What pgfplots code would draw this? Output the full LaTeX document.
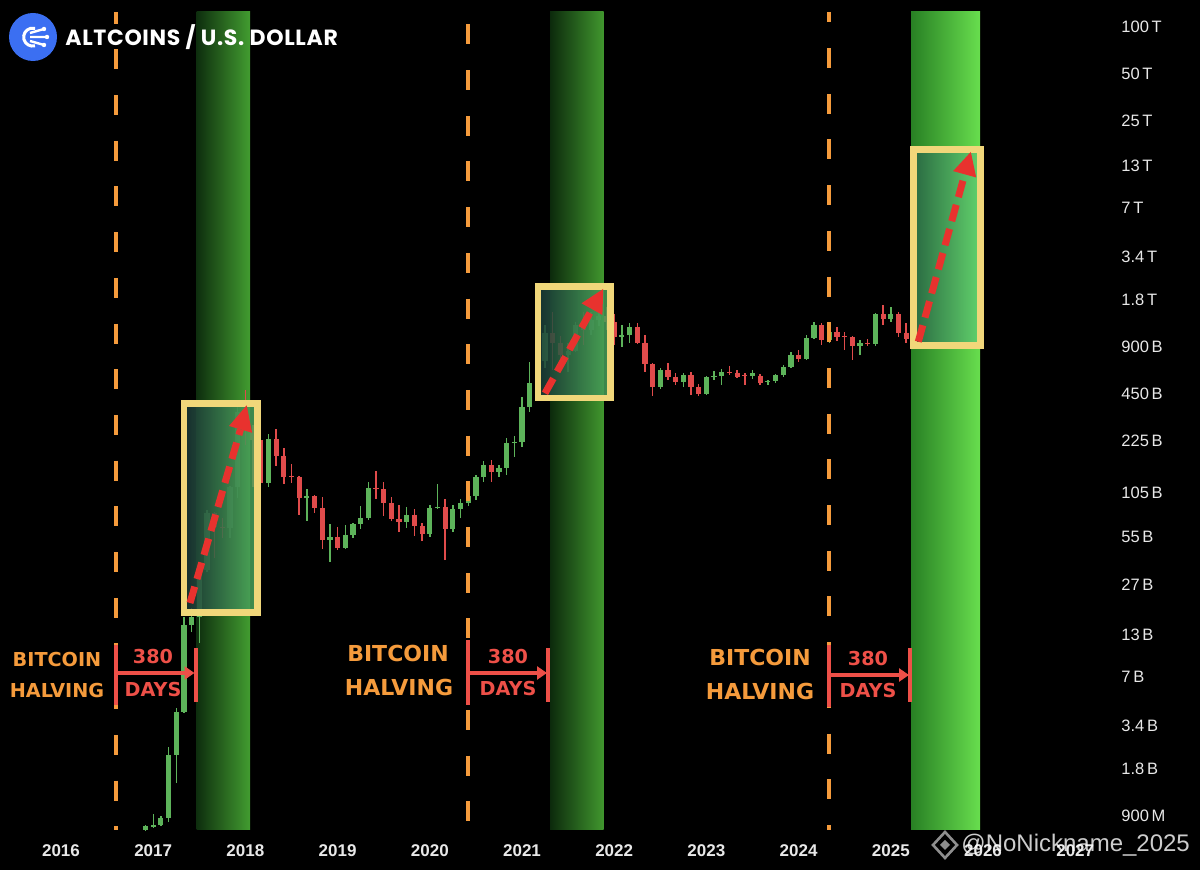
\documentclass[border=0pt]{standalone}
\usepackage{pgfplots}
\pgfplotsset{compat=1.18}
\usepackage{pgfplotstable}
\usepackage{fontspec}
\setmainfont{Liberation Sans}
\newfontfamily\titlefont{Poppins}[LetterSpace=3]
\newfontfamily\annfont{DejaVu Sans}
\usetikzlibrary{arrows.meta}

\definecolor{cgreen}{HTML}{5DB35A}
\definecolor{cred}{HTML}{E04B4B}
\definecolor{halv}{HTML}{F59B3C}
\definecolor{ann}{HTML}{EE5048}
\definecolor{boxy}{HTML}{F1D77A}
\definecolor{arr}{HTML}{E8322E}
\definecolor{logoblue}{HTML}{3B6FF2}
\definecolor{labgray}{HTML}{E8E8E8}

% monthly candles: t = decimal year, o h l c in billions USD
\pgfplotstableread{
t o h l c
2016.9167 0.732 0.788 0.721 0.776
2017.0000 0.765 0.927 0.754 0.788
2017.0833 0.788 0.900 0.776 0.874
2017.1667 0.874 2.48 0.823 2.21
2017.2500 2.21 4.42 1.46 4.16
2017.3333 4.16 16.9 4.10 14.96
2017.4167 14.96 19.2 13.5 16.9
2017.5000 16.9 36.3 11.5 33.7
2017.5833 33.7 81.5 32.7 78.0
2017.6667 78.0 79.1 40.2 63.4
2017.7500 63.4 72.4 54.0 62.5
2017.8333 62.5 116.1 54.0 114.4
2017.9167 114.4 382.5 97.2 345
2018.0000 345 477 212.3 264.7
2018.0833 264.7 284.9 114.4 228.5
2018.1667 228.5 242.3 117.8 121.3
2018.2500 121.3 249.5 114.4 231.8
2018.3333 231.8 268.6 155.8 180.5
2018.4167 180.5 203.1 119.5 132.5
2018.5000 134.5 160.5 121.3 132.5
2018.5833 132.5 135.0 75.7 97.2
2018.6667 97.2 111.1 69.3 100.1
2018.7500 100.1 101.0 78.0 83.9
2018.8333 83.9 98.7 45.9 52.4
2018.9167 52.4 66.3 37.9 54.8
2019.0000 54.8 63.4 45.2 46.6
2019.0833 46.6 65.3 45.9 56.4
2019.1667 56.4 67.3 54.0 66.3
2019.2500 66.3 86.4 61.6 72.4
2019.3333 72.4 123.1 70.3 112.7
2019.4167 112.7 144.8 95.8 110.7
2019.5000 110.7 123.1 74.6 90.3
2019.5833 90.3 98.7 69.0 71.4
2019.6667 71.4 87.7 58.9 68.3
2019.7500 68.3 85.2 62.5 75.7
2019.8333 75.7 82.7 55.6 64.3
2019.9167 64.3 67.3 51.6 57.2
2020.0000 57.2 87.7 54.8 83.9
2020.0833 83.9 119.5 82.7 85.2
2020.1667 85.2 95.8 39.0 61.6
2020.2500 61.6 87.7 58.9 82.7
2020.3333 82.7 95.8 72.4 90.3
2020.4167 90.3 104.7 86.4 100.1
2020.5000 100.1 136.5 94.4 132.5
2020.5833 132.5 167.7 123.1 158.1
2020.6667 158.1 170.2 123.1 142.6
2020.7500 142.6 158.1 132.5 151.3
2020.8333 151.3 235.3 136.5 218.6
2020.9167 218.6 242.3 177.9 221.9
2021.0000 221.9 430.3 206.1 371.4
2021.0833 371.4 720.4 345 528.8
2021.1667 528.8 798.6 443.2 731.1
2021.2500 731.1 1242 659.5 1104
2021.3333 1104 1504 640.4 952.9
2021.4167 952.9 1056 621.8 798.6
2021.5000 798.6 952.9 621.8 847.0
2021.5833 847.0 1298 834.7 1242
2021.6667 1242 1504 925.2 1154
2021.7500 1154 1504 1072 1337
2021.8333 1337 1744 1224 1418
2021.9167 1418 1619 1154 1298
2022.0000 1298 1460 925.2 1041
2022.0833 1041 1242 898.4 1072
2022.1667 1072 1279 952.9 1206
2022.2500 1206 1279 938.9 952.9
2022.3333 952.9 1072 621.8 699.5
2022.4167 699.5 709.9 436.7 498.6
2022.5000 498.6 659.5 484.1 640.4
2022.5833 640.4 709.9 552.7 577.6
2022.6667 577.6 612.7 513.5 536.7
2022.7500 536.7 612.7 498.6 594.9
2022.8333 594.9 621.8 443.2 498.6
2022.9167 498.6 521.1 436.7 449.7
2023.0000 449.7 586.2 443.2 577.6
2023.0833 577.6 631.0 552.7 586.2
2023.1667 586.2 649.9 513.5 621.8
2023.2500 621.8 679.2 594.9 612.7
2023.3333 612.7 640.4 569.2 577.6
2023.4167 594.9 612.7 513.5 586.2
2023.5000 586.2 640.4 560.9 612.7
2023.5833 586.2 603.7 513.5 528.8
2023.6667 536.7 552.7 513.5 544.6
2023.7500 544.6 603.7 528.8 594.9
2023.8333 594.9 689.3 577.6 669.3
2023.9167 669.3 834.7 659.5 798.6
2024.0000 798.6 859.6 720.4 752.9
2024.0833 752.9 1072 745 1026
2024.1667 1026 1298 1011 1242
2024.2500 1242 1279 925.2 995.9
2024.3333 995.9 1279 952.9 1120
2024.4167 1120 1206 981.4 1041
2024.5000 1056 1120 859.6 1041
2024.5833 1041 1060 741.9 911.7
2024.6667 911.7 995.9 798.6 952.9
2024.7500 952.9 1010.6 911.7 938.9
2024.8333 938.9 1482 911.7 1460
2024.9167 1460 1667 1242 1357
2025.0000 1357 1619 1298 1460
2025.0833 1460 1504 1041 1104
2025.1667 1104 1279 952.9 1011
}\candles
\pgfplotstablegetrowsof{\candles}
\pgfmathtruncatemacro{\lastrow}{\pgfplotsretval-1}

\begin{document}
\begin{tikzpicture}
\fill[black] (0,0) rectangle (600pt,435pt);
% ---- green bands (pixel coordinates) ----
\begin{scope}[x=0.5pt,y=-0.5pt,yshift=435pt]
  \shade[left color={rgb,255:red,14;green,46;blue,14}, middle color={rgb,255:red,38;green,100;blue,32}, right color={rgb,255:red,66;green,156;blue,48}] (196.5,12) rectangle (250,830);
  \shade[left color={rgb,255:red,12;green,42;blue,12}, middle color={rgb,255:red,36;green,96;blue,30}, right color={rgb,255:red,64;green,150;blue,46}] (550,12) rectangle (603.5,830);
  \shade[left color={rgb,255:red,40;green,128;blue,36}, middle color={rgb,255:red,78;green,190;blue,60}, right color={rgb,255:red,104;green,222;blue,78}] (911,12) rectangle (980,830);
\end{scope}

\begin{axis}[
  at={(0,0)}, anchor=south west,
  scale only axis, width=600pt, height=435pt,
  xmin=2015.33839, xmax=2028.35358,
  ymode=log, ymin=0.40614, ymax=148840,
  axis line style={draw=none}, tick style={draw=none},
  major tick length=0pt, minor tick length=0pt,
  xtick={2016,2017,2018,2019,2020,2021,2022,2023,2024,2025,2026,2027},
  xticklabels={2016,2017,2018,2019,2020,2021,2022,2023,2024,2025,2026,2027},
  ytick={0.9,1.8,3.4,7,13,27,55,105,225,450,900,1800,3400,7000,13000,25000,50000,100000},
  yticklabels={900\,M,1.8\,B,3.4\,B,7\,B,13\,B,27\,B,55\,B,105\,B,225\,B,450\,B,900\,B,1.8\,T,3.4\,T,7\,T,13\,T,25\,T,50\,T,100\,T},
  xticklabel style={anchor=center, inner sep=0pt, yshift=9.5pt, text=labgray, font=\bfseries\fontsize{8.5pt}{10pt}\selectfont},
  yticklabel style={anchor=west, inner sep=0pt, xshift=560.5pt, text=labgray, font=\fontsize{8.25pt}{10pt}\selectfont},
]
\pgfplotsforeachungrouped \i in {0,...,\lastrow}{%
  \pgfplotstablegetelem{\i}{t}\of\candles \let\ct\pgfplotsretval
  \pgfplotstablegetelem{\i}{o}\of\candles \let\co\pgfplotsretval
  \pgfplotstablegetelem{\i}{h}\of\candles \let\ch\pgfplotsretval
  \pgfplotstablegetelem{\i}{l}\of\candles \let\cl\pgfplotsretval
  \pgfplotstablegetelem{\i}{c}\of\candles \let\cc\pgfplotsretval
  \pgfmathparse{\cc>=\co?1:0}%
  \ifdim\pgfmathresult pt>0.5pt \def\ccol{cgreen}\else\def\ccol{cred}\fi
  \edef\docandle{%
    \noexpand\addplot[draw=\ccol, line width=0.7pt, forget plot] coordinates {(\ct,\cl) (\ct,\ch)};
    \noexpand\addplot[draw=\ccol, line width=2.6pt, forget plot] coordinates {(\ct,\co) (\ct,\cc)};
  }%
  \docandle
}
\end{axis}

% ---- annotations (pixel coordinates) ----
\begin{scope}[x=0.5pt,y=-0.5pt,yshift=435pt]
  % halving lines
  \draw[halv, line width=1.7pt, dash pattern=on 10pt off 12.85pt, dash phase=4.15pt] (116,12) -- (116,830);
  \draw[halv, line width=1.7pt, dash pattern=on 10pt off 12.85pt, dash phase=16.65pt] (468,12) -- (468,830);
  \draw[halv, line width=1.7pt, dash pattern=on 10pt off 12.85pt, dash phase=4.8pt] (829,12) -- (829,830);

  % boxes
  \shade[left color={rgb,255:red,26;green,54;blue,54}, right color={rgb,255:red,78;green,170;blue,94}, opacity=0.85] (184,403.7) rectangle (257.5,612.5);
  \draw[boxy, line width=3.25pt] (184,403.7) rectangle (257.5,612.5);
  \shade[left color={rgb,255:red,26;green,58;blue,56}, right color={rgb,255:red,76;green,168;blue,92}, opacity=0.85] (538,286.7) rectangle (610.7,397.8);
  \draw[boxy, line width=3.25pt] (538,286.7) rectangle (610.7,397.8);
  \shade[left color={rgb,255:red,42;green,104;blue,70}, right color={rgb,255:red,98;green,210;blue,112}, opacity=0.9] (913.7,149.3) rectangle (980.7,345.5);
  \draw[boxy, line width=3.25pt] (913.7,149.3) rectangle (980.7,345.5);

  % red dashed arrows
  \draw[arr, line width=3.5pt, dash pattern=on 8.5pt off 4pt] (190,603) -- (240.5,429.4);
  \fill[arr] (246.7,405.3) -- (252.1,432.8) -- (229.0,426.0) -- cycle;
  \draw[arr, line width=3.5pt, dash pattern=on 8.5pt off 4pt] (545,393.3) -- (592,309.2);
  \fill[arr] (603.2,289.0) -- (602.4,315.0) -- (581.5,303.3) -- cycle;
  \draw[arr, line width=3.5pt, dash pattern=on 8.5pt off 4pt] (918.3,341.7) -- (964.7,174.3);
  \fill[arr] (970.8,152.0) -- (976.2,177.5) -- (953.1,171.1) -- cycle;

  % 380 days markers
  \foreach \xa/\xb/\ya/\yb/\yar in {116/195.5/645/705/673, 468/548/640/705/673, 829/910/645/707/675}{
    \draw[ann, line width=2pt] (\xa,\ya) -- (\xa,\yb);
    \draw[ann, line width=2pt] (\xb,648) -- (\xb,702);
    \draw[ann, line width=1.8pt, -{Triangle[length=5pt,width=6.5pt]}] (\xa+1,\yar) -- (\xb-1,\yar);
  }
  \tikzset{bt/.style={font=\annfont\bfseries\fontsize{9.6pt}{10pt}\selectfont, inner sep=0pt},
           bt2/.style={font=\annfont\bfseries\fontsize{11pt}{12pt}\selectfont, inner sep=0pt}}
  \node[bt, text=halv] at (57,660) {BITCOIN};
  \node[bt, text=halv] at (57,691) {HALVING};
  \node[bt, text=ann] at (153,657) {380};
  \node[bt, text=ann] at (153,690) {DAYS};
  \node[bt2, text=halv] at (398,654) {BITCOIN};
  \node[bt2, text=halv] at (399,688) {HALVING};
  \node[bt, text=ann] at (508,657) {380};
  \node[bt, text=ann] at (508,689) {DAYS};
  \node[bt2, text=halv] at (760,658) {BITCOIN};
  \node[bt2, text=halv] at (760,692) {HALVING};
  \node[bt, text=ann] at (868,659) {380};
  \node[bt, text=ann] at (868,691) {DAYS};

  % logo + title
  \fill[logoblue] (33,37) circle (24);
  \draw[white, line width=1.5pt] (35,45.8) arc[start angle=75, end angle=285, radius=9];
  \draw[white, line width=1.2pt] (30,33) -- (44,29) (30,37) -- (47,37) (30,41) -- (44,45);
  \fill[white] (44,29) circle (2.2) (47,37) circle (2.2) (44,45) circle (2.2);
  \node[anchor=west, inner sep=0pt, text=white, font=\titlefont\bfseries\fontsize{11pt}{12pt}\selectfont] at (65,37.5) {ALTCOINS / U.S. DOLLAR};

  % watermark
  \begin{scope}[opacity=0.8]
    \draw[gray!60, line width=1.3pt] (945,832) -- (957,845) -- (945,858) -- (933,845) -- cycle;
    \fill[gray!60] (945,840) -- (950,845) -- (945,850) -- (940,845) -- cycle;
    \node[anchor=west, inner sep=0pt, text=white, font=\fontsize{12pt}{14pt}\selectfont] at (961,845) {@NoNickname\_2025};
  \end{scope}
\end{scope}
\pgfresetboundingbox
\path (0,0) rectangle (600pt,435pt);
\end{tikzpicture}
\end{document}
